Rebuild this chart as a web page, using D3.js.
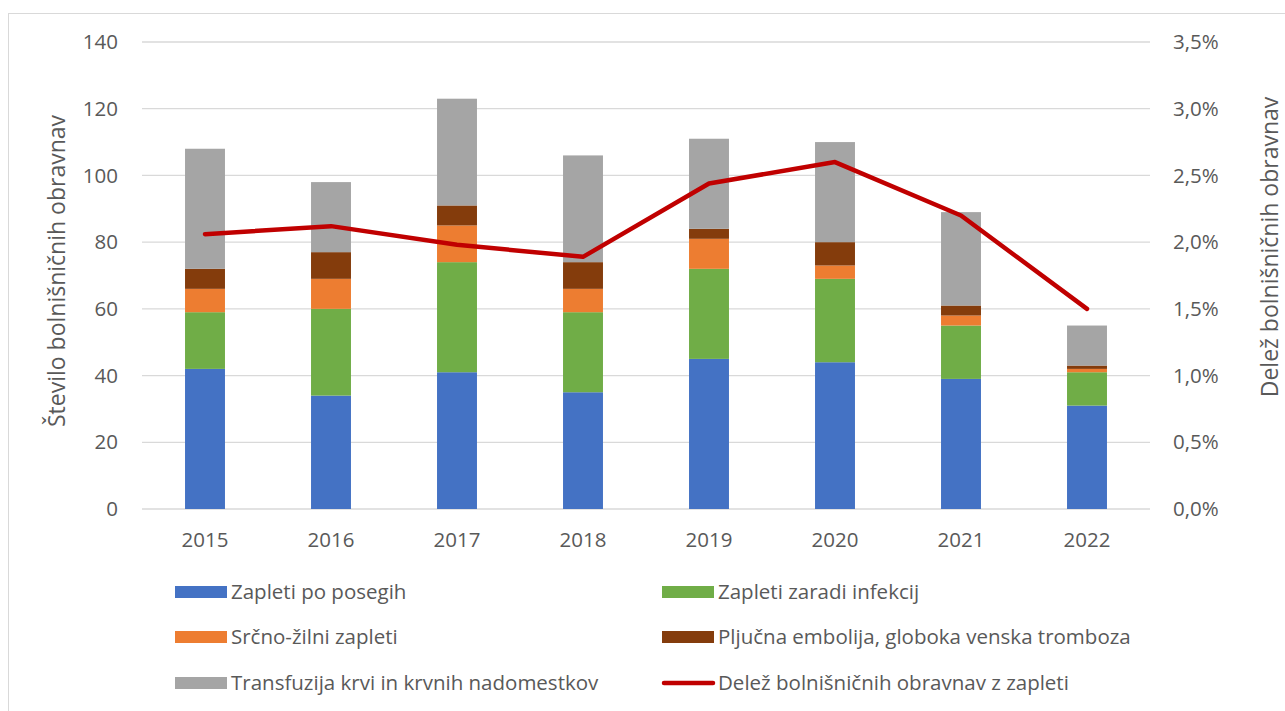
<!DOCTYPE html>
<html>
<head>
<meta charset="utf-8">
<script src="https://cdn.jsdelivr.net/npm/d3@7"></script>
<style>
    body { margin: 0; background: #fff; }
    svg text { font-family: "Open Sans", sans-serif; fill: #595959; }
</style>
</head>
<body>
<svg id="chart" width="1285" height="711"></svg>
<script>
// data
let years = ['2015', '2016', '2017', '2018', '2019', '2020', '2021', '2022'];
let posegi = [42, 34, 41, 35, 45, 44, 39, 31];
let infekcije = [17, 26, 33, 24, 27, 25, 16, 10];
let srcni = [7, 9, 11, 7, 9, 4, 3, 1];
let embolija = [6, 8, 6, 8, 3, 7, 3, 1];
let transfuzija = [36, 21, 32, 32, 27, 30, 28, 12];
let delez = [0.0206, 0.0212, 0.0198, 0.0189, 0.0244, 0.0260, 0.0220, 0.0150];

let seriesNames = ['Zapleti po posegih', 'Zapleti zaradi infekcij', 'Srčno-žilni zapleti',
    'Pljučna embolija, globoka venska tromboza', 'Transfuzija krvi in krvnih nadomestkov'];
let lineName = 'Delež bolnišničnih obravnav z zapleti';
let leftTicks = [0, 20, 40, 60, 80, 100, 120, 140];
let rightTicks = [0, 0.005, 0.01, 0.015, 0.02, 0.025, 0.03, 0.035];
let colors = ['#4472C4', '#70AD47', '#ED7D31', '#843C0C', '#A5A5A5'];
let lineColor = '#C00000';

let svg = d3.select('#chart');
let plot = {l: 142, r: 1150, t: 42, b: 509};
let fontSize = '20.5px';
let titleSize = '23px';

// chart frame
svg.append('rect')
    .attr('x', 8.5).attr('y', 13.5)
    .attr('width', 1300).attr('height', 720)
    .attr('fill', 'none')
    .attr('stroke', '#D9D9D9');

let xScale = d3.scaleBand()
    .domain(years)
    .range([plot.l, plot.r])
    .paddingInner(0.683)
    .paddingOuter(0.683 / 2);

let yScale = d3.scaleLinear().domain([0, 140]).range([plot.b, plot.t]);
let y2Scale = d3.scaleLinear().domain([0, 0.035]).range([plot.b, plot.t]);

let locale = d3.formatLocale({decimal: ',', thousands: '.', grouping: [3], currency: ['', '€']});
let pct = locale.format('.1%');

// gridlines
svg.append('g').selectAll('line')
    .data(leftTicks)
    .join('line')
    .attr('x1', plot.l).attr('x2', plot.r)
    .attr('y1', d => yScale(d)).attr('y2', d => yScale(d))
    .attr('stroke', '#D9D9D9')
    .attr('stroke-width', 1.3);

// stacked bars
let table = years.map((y, i) => ({
    year: y, s0: posegi[i], s1: infekcije[i], s2: srcni[i], s3: embolija[i], s4: transfuzija[i]
}));
let stack = d3.stack().keys(['s0', 's1', 's2', 's3', 's4'])(table);

svg.append('g').selectAll('g')
    .data(stack)
    .join('g')
    .attr('fill', (d, i) => colors[i])
    .selectAll('rect')
    .data(d => d)
    .join('rect')
    .attr('x', d => xScale(d.data.year))
    .attr('y', d => yScale(d[1]))
    .attr('width', xScale.bandwidth())
    .attr('height', d => yScale(d[0]) - yScale(d[1]));

// share line
let line = d3.line()
    .x((d, i) => xScale(years[i]) + xScale.bandwidth() / 2)
    .y(d => y2Scale(d));

svg.append('path')
    .datum(delez)
    .attr('d', line)
    .attr('fill', 'none')
    .attr('stroke', lineColor)
    .attr('stroke-width', 4.5)
    .attr('stroke-linecap', 'round')
    .attr('stroke-linejoin', 'round');

// left axis labels
svg.append('g').selectAll('text')
    .data(leftTicks)
    .join('text')
    .attr('x', 118)
    .attr('y', d => yScale(d))
    .attr('dy', '0.35em')
    .attr('text-anchor', 'end')
    .style('font-size', fontSize)
    .text(d => d);

// right axis labels
svg.append('g').selectAll('text')
    .data(rightTicks)
    .join('text')
    .attr('x', 1173)
    .attr('y', d => y2Scale(d))
    .attr('dy', '0.35em')
    .style('font-size', fontSize)
    .text(d => pct(d));

// x labels
svg.append('g').selectAll('text')
    .data(years)
    .join('text')
    .attr('x', d => xScale(d) + xScale.bandwidth() / 2)
    .attr('y', 540)
    .attr('dy', '0.35em')
    .attr('text-anchor', 'middle')
    .style('font-size', fontSize)
    .text(d => d);

// axis titles
svg.append('text')
    .attr('transform', 'translate(57, 271) rotate(-90)')
    .attr('dy', '0.35em')
    .attr('text-anchor', 'middle')
    .style('font-size', titleSize)
    .text('Število bolnišničnih obravnav');

svg.append('text')
    .attr('transform', 'translate(1270, 247) rotate(-90)')
    .attr('dy', '0.35em')
    .attr('text-anchor', 'middle')
    .style('font-size', titleSize)
    .text('Delež bolnišničnih obravnav');

// legend
let legendItems = seriesNames.map((n, i) => ({name: n, color: colors[i], type: 'rect'}));
legendItems.push({name: lineName, color: lineColor, type: 'line'});
let colX = [175, 662];
let rowY = [592, 637, 683];

let legend = svg.append('g').selectAll('g')
    .data(legendItems)
    .join('g')
    .attr('transform', (d, i) => `translate(${colX[i % 2]}, ${rowY[Math.floor(i / 2)]})`);

legend.filter(d => d.type === 'rect')
    .append('rect')
    .attr('x', 0).attr('y', -6)
    .attr('width', 52).attr('height', 12)
    .attr('fill', d => d.color);

legend.filter(d => d.type === 'line')
    .append('line')
    .attr('x1', 2).attr('x2', 51)
    .attr('y1', 0).attr('y2', 0)
    .attr('stroke', d => d.color)
    .attr('stroke-width', 4.5)
    .attr('stroke-linecap', 'round');

legend.append('text')
    .attr('x', 56)
    .attr('y', 0)
    .attr('dy', '0.35em')
    .style('font-size', fontSize)
    .text(d => d.name);
</script>
</body>
</html>
